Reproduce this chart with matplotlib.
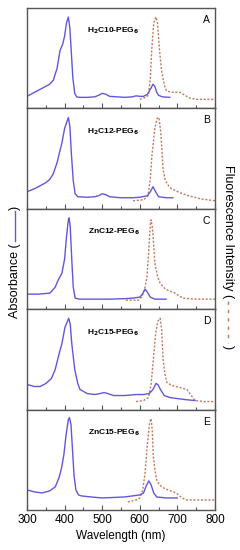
import matplotlib.pyplot as plt
from matplotlib.lines import Line2D
from matplotlib.ticker import MultipleLocator

plt.rcParams['font.family'] = ['Liberation Sans', 'DejaVu Sans']

# panel names and letters
names = ["H$_\\mathbf{2}$C10-PEG$_\\mathbf{6}$", "H$_\\mathbf{2}$C12-PEG$_\\mathbf{6}$",
         "ZnC12-PEG$_\\mathbf{6}$", "H$_\\mathbf{2}$C15-PEG$_\\mathbf{6}$", "ZnC15-PEG$_\\mathbf{6}$"]
letters = ["A", "B", "C", "D", "E"]

# absorbance (normalised), wavelength in nm
abs_wl_A = [300, 320, 340, 360, 370, 380, 388, 395, 400, 405, 410, 414, 418, 422, 427, 432, 440, 460, 480,
            490, 500, 510, 520, 540, 560, 580, 590, 600, 610, 620, 628, 635, 640, 645, 650, 660, 680]
abs_A = [0.12, 0.16, 0.20, 0.24, 0.28, 0.40, 0.58, 0.64, 0.72, 0.85, 0.91, 0.80, 0.55, 0.30, 0.15, 0.115,
         0.11, 0.11, 0.115, 0.13, 0.15, 0.14, 0.12, 0.115, 0.11, 0.115, 0.125, 0.12, 0.12, 0.14, 0.19,
         0.24, 0.22, 0.16, 0.13, 0.115, 0.11]

abs_wl_B = [300, 320, 340, 350, 360, 370, 380, 393, 400, 410, 414, 418, 423, 428, 435, 460, 480, 490, 500,
            510, 520, 550, 580, 600, 620, 628, 635, 642, 650, 670, 688]
abs_B = [0.17, 0.20, 0.24, 0.26, 0.29, 0.35, 0.46, 0.66, 0.80, 0.91, 0.82, 0.55, 0.28, 0.15, 0.12, 0.115,
         0.12, 0.13, 0.15, 0.14, 0.12, 0.11, 0.11, 0.115, 0.13, 0.17, 0.22, 0.17, 0.12, 0.11, 0.11]

abs_wl_C = [300, 330, 361, 375, 383, 393, 400, 405, 410, 412, 415, 419, 423, 428, 440, 480, 520, 560,
            580, 600, 607, 614, 620, 628, 640, 670]
abs_C = [0.15, 0.15, 0.16, 0.22, 0.29, 0.36, 0.50, 0.72, 0.89, 0.91, 0.82, 0.50, 0.22, 0.11, 0.10, 0.10,
         0.10, 0.105, 0.11, 0.12, 0.15, 0.20, 0.17, 0.12, 0.10, 0.10]

abs_wl_D = [300, 320, 335, 350, 365, 375, 385, 393, 401, 411, 415, 419, 427, 435, 441, 460, 480, 495,
            505, 515, 530, 560, 590, 610, 625, 635, 643, 648, 655, 665, 680, 700, 720, 747]
abs_D = [0.25, 0.23, 0.23, 0.26, 0.31, 0.40, 0.55, 0.66, 0.82, 0.91, 0.85, 0.66, 0.40, 0.26, 0.20, 0.16,
         0.15, 0.16, 0.17, 0.16, 0.14, 0.14, 0.15, 0.15, 0.16, 0.20, 0.26, 0.25, 0.20, 0.14, 0.12, 0.11,
         0.10, 0.09]

abs_wl_E = [300, 320, 340, 360, 375, 385, 392, 398, 404, 410, 413, 417, 421, 425, 430, 437, 445, 470,
            500, 530, 560, 580, 600, 610, 617, 624, 630, 637, 645, 670, 700]
abs_E = [0.20, 0.18, 0.17, 0.19, 0.23, 0.32, 0.42, 0.55, 0.75, 0.90, 0.92, 0.85, 0.60, 0.35, 0.20, 0.15,
         0.14, 0.13, 0.12, 0.125, 0.13, 0.14, 0.15, 0.17, 0.24, 0.29, 0.25, 0.17, 0.13, 0.12, 0.12]

# fluorescence (normalised)
em_wl_A = [600, 615, 623, 628, 632, 637, 643, 647, 652, 657, 662, 667, 672, 690, 707, 720, 735, 752, 800]
em_A = [0.09, 0.11, 0.13, 0.30, 0.60, 0.85, 0.91, 0.85, 0.60, 0.40, 0.29, 0.21, 0.17, 0.16, 0.16, 0.13,
        0.10, 0.09, 0.09]

em_wl_B = [582, 610, 622, 628, 632, 640, 646, 651, 656, 662, 668, 680, 695, 707, 730, 760, 800]
em_B = [0.08, 0.09, 0.13, 0.30, 0.52, 0.80, 0.90, 0.91, 0.75, 0.39, 0.28, 0.21, 0.18, 0.16, 0.13, 0.10,
        0.08]

em_wl_C = [563, 596, 605, 613, 619, 624, 628, 630, 634, 640, 647, 654, 668, 680, 694, 705, 715, 750, 800]
em_C = [0.09, 0.09, 0.12, 0.20, 0.32, 0.60, 0.85, 0.89, 0.80, 0.46, 0.33, 0.26, 0.20, 0.18, 0.16, 0.13,
        0.11, 0.10, 0.10]

em_wl_D = [590, 610, 623, 630, 636, 642, 648, 654, 658, 662, 667, 672, 685, 707, 725, 735, 747, 770, 800]
em_D = [0.08, 0.09, 0.12, 0.25, 0.50, 0.75, 0.88, 0.91, 0.80, 0.50, 0.35, 0.27, 0.24, 0.22, 0.20, 0.15,
        0.09, 0.08, 0.08]

em_wl_E = [568, 590, 600, 608, 614, 620, 626, 630, 633, 636, 641, 645, 652, 663, 675, 690, 700, 712,
           725, 760, 800]
em_E = [0.08, 0.10, 0.12, 0.20, 0.37, 0.65, 0.87, 0.91, 0.80, 0.53, 0.38, 0.30, 0.25, 0.22, 0.20, 0.18,
        0.16, 0.12, 0.10, 0.10, 0.10]

abs_wl = [abs_wl_A, abs_wl_B, abs_wl_C, abs_wl_D, abs_wl_E]
abs_vals = [abs_A, abs_B, abs_C, abs_D, abs_E]
em_wl = [em_wl_A, em_wl_B, em_wl_C, em_wl_D, em_wl_E]
em_vals = [em_A, em_B, em_C, em_D, em_E]

blue = '#6257dc'
brown = '#c07a60'
spine_col = '#555555'
dots = (0, (1.5, 1.2))

W, H = 240, 550
fig, axes = plt.subplots(5, 1, figsize=(W / 100, H / 100), dpi=100, sharex=True)
fig.subplots_adjust(left=27 / W, right=215 / W, top=1 - 8 / H, bottom=1 - 510 / H, hspace=0)

for i, ax in enumerate(axes):
    ax.plot(em_wl[i], em_vals[i], color=brown, lw=1.0, ls=dots)
    ax.plot(abs_wl[i], abs_vals[i], color=blue, lw=1.0)
    ax.set_xlim(300, 800)
    ax.set_ylim(0, 1)
    ax.set_yticks([])
    ax.xaxis.set_major_locator(MultipleLocator(100))
    ax.xaxis.set_minor_locator(MultipleLocator(50))
    ax.tick_params(axis='x', which='major', direction='in', length=3.5, width=0.8, color=spine_col,
                   labelsize=8.5, pad=3)
    ax.tick_params(axis='x', which='minor', direction='in', length=2, width=0.8, color=spine_col)
    for s in ax.spines.values():
        s.set_color(spine_col)
        s.set_linewidth(1.0)
    ax.text(0.46, 0.77, names[i], transform=ax.transAxes, ha='center', va='center',
            fontsize=6, fontweight='bold')
    ax.text(0.955, 0.88, letters[i], transform=ax.transAxes, ha='center', va='center', fontsize=7.5)

axes[-1].set_xlabel('Wavelength (nm)', fontsize=8.5, labelpad=3)

# y labels with line symbols; positions worked out in pixels
to_fig = lambda px, py: (px / W, 1 - py / H)

t_left = fig.text(*to_fig(15, 318), 'Absorbance (', rotation=90, ha='center', va='bottom', fontsize=9)
t_right = fig.text(*to_fig(228, 165), 'Fluorescence Intensity (', rotation=-90, ha='center', va='top',
                   fontsize=9)
fig.canvas.draw()
rend = fig.canvas.get_renderer()

bl = t_left.get_window_extent(rend)
y0 = H - bl.y1 - 2
fig.add_artist(Line2D([15 / W, 15 / W], [1 - y0 / H, 1 - (y0 - 30) / H], color=blue, lw=1.0,
                      transform=fig.transFigure))
fig.text(*to_fig(15, y0 - 31), ')', rotation=90, ha='center', va='bottom', fontsize=9)

br = t_right.get_window_extent(rend)
y1 = H - br.y0 + 3
fig.add_artist(Line2D([228 / W, 228 / W], [1 - y1 / H, 1 - (y1 + 42) / H], color=brown, lw=1.0,
                      ls=(0, (2.5, 3.5)), transform=fig.transFigure))
fig.text(*to_fig(228, y1 + 44), ')', rotation=-90, ha='center', va='top', fontsize=9)

fig.savefig('out.png', dpi=100)
